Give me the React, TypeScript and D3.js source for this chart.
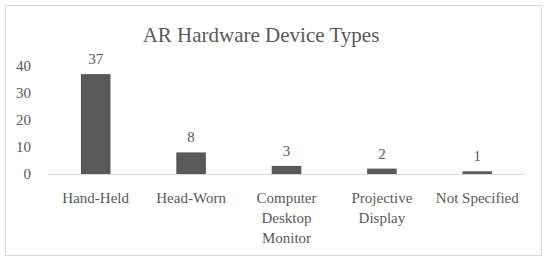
import React from 'react';
import * as d3 from 'd3';

const title = 'AR Hardware Device Types';
const categories = ['Hand-Held', 'Head-Worn', 'Computer Desktop Monitor', 'Projective Display', 'Not Specified'];
// wrapped the way the picture shows them
const categoryLines = [['Hand-Held'], ['Head-Worn'], ['Computer', 'Desktop', 'Monitor'], ['Projective', 'Display'], ['Not Specified']];
const counts = [37, 8, 3, 2, 1];
const yTicks = [0, 10, 20, 30, 40];

const W = 550;
const H = 263;
const textColor = '#595959';
const font = '"Liberation Serif", "DejaVu Serif", serif';

const App = () => {
  const x = d3.scaleBand<string>().domain(categories).range([48, 525]).padding(0);
  const y = d3.scaleLinear().domain([0, 40]).range([174, 66]);
  const barW = x.bandwidth() * 0.31;

  return (
    <svg width={W} height={H} style={{ position: 'absolute', left: 0, top: 0 }}>
      <rect x={0} y={0} width={W} height={H} fill="#fff" />
      <rect x={5.5} y={5.5} width={536} height={250} fill="#fff" stroke="#d9d9d9" strokeWidth={1} />
      <text x={261} y={42} textAnchor="middle" fontFamily={font} fontSize={21} fill={textColor}>
        {title}
      </text>
      {yTicks.map(t => (
        <text key={t} x={31} y={y(t) + 5} textAnchor="end" fontFamily={font} fontSize={15} fill={textColor}>
          {t}
        </text>
      ))}
      {categories.map((c, i) => {
        const cx = (x(c) ?? 0) + x.bandwidth() / 2;
        return (
          <g key={c}>
            <rect x={cx - barW / 2} y={y(counts[i])} width={barW} height={y(0) - y(counts[i])} fill="#595959" />
            <text x={cx} y={y(counts[i]) - 10} textAnchor="middle" fontFamily={font} fontSize={15} fill={textColor}>
              {counts[i]}
            </text>
            {categoryLines[i].map((line, j) => (
              <text key={j} x={cx} y={203 + j * 20} textAnchor="middle" fontFamily={font} fontSize={15} fill={textColor}>
                {line}
              </text>
            ))}
          </g>
        );
      })}
      <line x1={48} x2={525} y1={174.5} y2={174.5} stroke="#d9d9d9" strokeWidth={1} />
    </svg>
  );
};

export default App;
